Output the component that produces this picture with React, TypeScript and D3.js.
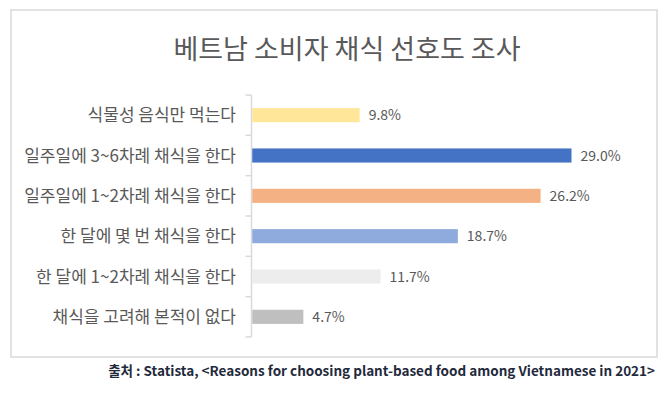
import React, { useRef, useEffect } from 'react';
import * as d3 from 'd3';

// chart data
const categories = [
  '식물성 음식만 먹는다',
  '일주일에 3~6차례 채식을 한다',
  '일주일에 1~2차례 채식을 한다',
  '한 달에 몇 번 채식을 한다',
  '한 달에 1~2차례 채식을 한다',
  '채식을 고려해 본적이 없다',
];
const values = [9.8, 29.0, 26.2, 18.7, 11.7, 4.7];
const barColors = ['#ffe699', '#4472c4', '#f4b183', '#8faadc', '#ededed', '#bfbfbf'];

const title = '베트남 소비자 채식 선호도 조사';
const sourceText = '출처 : Statista, <Reasons for choosing plant-based food among Vietnamese in 2021>';

const WIDTH = 667;
const HEIGHT = 395;
const FONT = '"Noto Sans CJK KR", "Noto Sans", sans-serif';

const App: React.FC = () => {
  const svgRef = useRef<SVGSVGElement>(null);

  useEffect(() => {
    if (!svgRef.current) return;
    const svg = d3.select(svgRef.current);
    svg.selectAll('*').remove();

    const axisX = 251.5;
    const plotTop = 95;
    const plotBottom = 337;

    const yScale = d3
      .scaleBand<string>()
      .domain(categories)
      .range([plotTop, plotBottom])
      .paddingInner(0.65)
      .paddingOuter(0.325);

    const xScale = d3.scaleLinear().domain([0, 29]).range([axisX, 571.5]);

    // frame
    svg
      .append('rect')
      .attr('x', 11)
      .attr('y', 10)
      .attr('width', 646)
      .attr('height', 347)
      .attr('fill', '#fff')
      .attr('stroke', '#d9d9d9')
      .attr('stroke-width', 1.5);

    // title
    svg
      .append('text')
      .attr('x', 347)
      .attr('y', 59)
      .attr('text-anchor', 'middle')
      .attr('font-family', FONT)
      .attr('font-size', 27)
      .attr('fill', '#595959')
      .text(title);

    // category axis line + ticks
    const step = yScale.step();
    const g = svg.append('g');
    g.append('line')
      .attr('x1', axisX)
      .attr('x2', axisX)
      .attr('y1', plotTop)
      .attr('y2', plotBottom)
      .attr('stroke', '#d9d9d9')
      .attr('stroke-width', 1.5);
    g.selectAll('.tick')
      .data(d3.range(categories.length + 1))
      .enter()
      .append('line')
      .attr('x1', axisX - 6)
      .attr('x2', axisX)
      .attr('y1', (i) => plotTop + i * step)
      .attr('y2', (i) => plotTop + i * step)
      .attr('stroke', '#d9d9d9')
      .attr('stroke-width', 1.5);

    // bars
    g.selectAll('.bar')
      .data(values)
      .enter()
      .append('rect')
      .attr('x', xScale(0) + 0.75)
      .attr('y', (_, i) => yScale(categories[i]) || 0)
      .attr('width', (d) => xScale(d) - xScale(0) - 0.75)
      .attr('height', yScale.bandwidth())
      .attr('fill', (_, i) => barColors[i]);

    // category labels
    g.selectAll('.cat')
      .data(categories)
      .enter()
      .append('text')
      .attr('x', 236)
      .attr('y', (d) => (yScale(d) || 0) + yScale.bandwidth() / 2)
      .attr('dy', '0.36em')
      .attr('text-anchor', 'end')
      .attr('font-family', FONT)
      .attr('font-size', 17)
      .attr('fill', '#595959')
      .text((d) => d);

    // value labels
    g.selectAll('.val')
      .data(values)
      .enter()
      .append('text')
      .attr('x', (d) => xScale(d) + 9)
      .attr('y', (_, i) => (yScale(categories[i]) || 0) + yScale.bandwidth() / 2)
      .attr('dy', '0.36em')
      .attr('font-family', FONT)
      .attr('font-size', 14)
      .attr('fill', '#595959')
      .text((d) => `${d.toFixed(1)}%`);

    // source
    svg
      .append('text')
      .attr('x', 655)
      .attr('y', 376)
      .attr('text-anchor', 'end')
      .attr('font-family', FONT)
      .attr('font-size', 13.5)
      .attr('font-weight', 'bold')
      .attr('fill', '#1f2a3c')
      .text(sourceText);
  }, []);

  return (
    <svg
      ref={svgRef}
      width={WIDTH}
      height={HEIGHT}
      style={{ position: 'absolute', left: 0, top: 0, background: '#fff' }}
    />
  );
};

export default App;
